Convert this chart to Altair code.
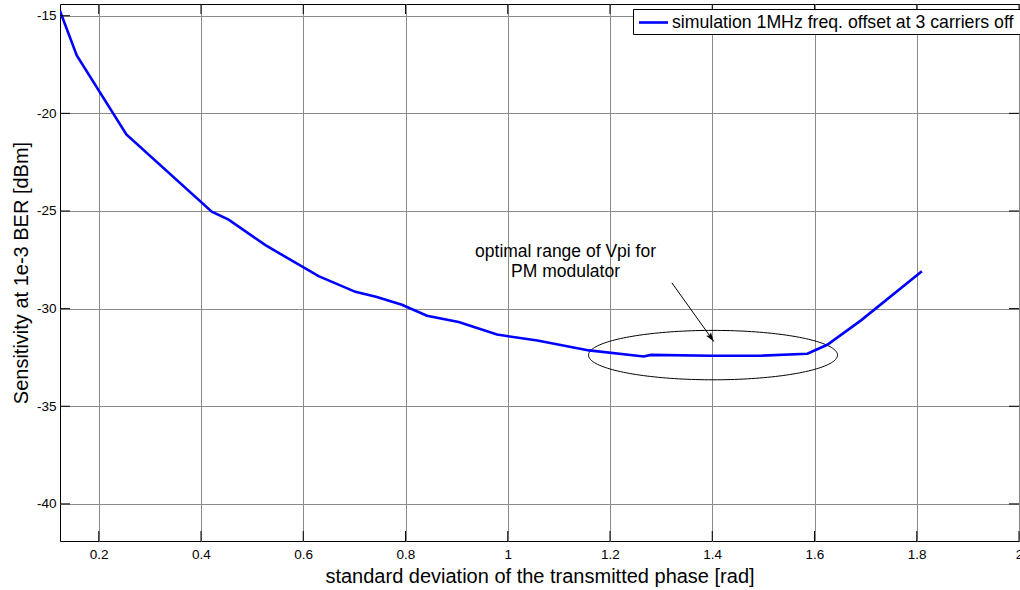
import math
import altair as alt
import numpy as np
import pandas as pd

# ---- data ----
x_vals = [0.124, 0.157, 0.254, 0.421, 0.454, 0.526, 0.630, 0.702, 0.744, 0.793,
          0.842, 0.904, 0.979, 1.058, 1.159, 1.266, 1.280, 1.398, 1.496, 1.586,
          1.625, 1.691, 1.810]
y_vals = [-14.75, -17.03, -21.08, -25.04, -25.44, -26.75, -28.34, -29.14, -29.40, -29.80,
          -30.36, -30.68, -31.33, -31.63, -32.14, -32.45, -32.37, -32.41, -32.41, -32.31,
          -31.85, -30.60, -28.09]
x_ticks = [0.2, 0.4, 0.6, 0.8, 1.0, 1.2, 1.4, 1.6, 1.8, 2.0]
y_ticks = [-40, -35, -30, -25, -20, -15]
legend_label = "simulation 1MHz freq. offset at 3 carriers off"
annot_lines = ["optimal range of Vpi for", "PM modulator"]
annot_x = [1.113, 1.113]
annot_y = [-27.11, -28.13]
ellipse_center = (1.4015, -32.38)
ellipse_radii = (0.2435, 1.265)
arrow_from = (1.321, -28.68)
arrow_to = (1.403, -31.68)

x_domain = [0.1242, 2.0]
y_domain = [-41.9, -14.4]

# ---- layout / style ----
W, H = 959, 537
FONT = "Liberation Sans"
TICK = 10
xscale = alt.Scale(domain=x_domain, nice=False, zero=False)
yscale = alt.Scale(domain=y_domain, nice=False, zero=False)

XAX = alt.Axis(
    values=x_ticks, format="~g", grid=True, gridColor="#8a8a8a", gridWidth=1,
    ticks=False, tickSize=0, domain=False, labelFont=FONT, labelFontSize=13.5,
    labelColor="black", labelPadding=6, labelFlush=False, labelOverlap=False,
    title="standard deviation of the transmitted phase [rad]", titleFont=FONT,
    titleFontSize=20, titleFontWeight="normal", titleColor="black", titlePadding=6,
)
YAX = alt.Axis(
    values=y_ticks, grid=True, gridColor="#8a8a8a", gridWidth=1,
    labelExpr="'' + datum.value",
    ticks=False, tickSize=0, domain=False, labelFont=FONT, labelFontSize=13.5,
    labelColor="black", labelPadding=4, labelOverlap=False,
    title="Sensitivity at 1e-3 BER [dBm]", titleFont=FONT,
    titleFontSize=20, titleFontWeight="normal", titleColor="black", titlePadding=5,
)


def X(f="x"):
    return alt.X(f"{f}:Q", scale=xscale, axis=XAX)


def Y(f="y"):
    return alt.Y(f"{f}:Q", scale=yscale, axis=YAX)


line_df = pd.DataFrame({"x": x_vals, "y": y_vals})
line = alt.Chart(line_df).mark_line(color="#0000ff", strokeWidth=2.6, clip=True).encode(
    x=X(), y=Y(),
)

# ellipse annotation (geometric shape)
t = np.linspace(0, 2 * np.pi, 181)
ell_df = pd.DataFrame({
    "x": ellipse_center[0] + ellipse_radii[0] * np.cos(t),
    "y": ellipse_center[1] + ellipse_radii[1] * np.sin(t),
    "o": np.arange(len(t)),
})
ellipse = alt.Chart(ell_df).mark_line(color="black", strokeWidth=1).encode(
    x=X(), y=Y(), order="o:Q",
)

# arrow
arr_df = pd.DataFrame({"x": [arrow_from[0]], "y": [arrow_from[1]],
                       "x2": [arrow_to[0]], "y2": [arrow_to[1]]})
arrow_line = alt.Chart(arr_df).mark_rule(color="black", strokeWidth=1).encode(
    x=X(), y=Y(), x2="x2:Q", y2="y2:Q",
)
px_x = W / (x_domain[1] - x_domain[0])
px_y = H / (y_domain[1] - y_domain[0])
dx = (arrow_to[0] - arrow_from[0]) * px_x
dy = -(arrow_to[1] - arrow_from[1]) * px_y
ang = -math.degrees(math.atan2(dx, dy)) % 360
head_df = pd.DataFrame({"x": [arrow_to[0]], "y": [arrow_to[1]]})
arrow_head = alt.Chart(head_df).mark_point(
    shape="M 0 0 L -0.32 -1 L 0 -0.8 L 0.32 -1 Z", filled=True, color="black",
    opacity=1, size=330, angle=ang,
).encode(x=X(), y=Y())

annot_df = pd.DataFrame({"x": annot_x, "y": annot_y, "t": annot_lines})
annot = alt.Chart(annot_df).mark_text(
    font=FONT, fontSize=17.5, color="black", align="center", baseline="middle"
).encode(x=X(), y=Y(), text="t:N")

# legend box drawn inside plot
one = pd.DataFrame({"a": [0]})
leg_box = alt.Chart(one).mark_rect(fill="white", stroke="black", strokeWidth=1).encode(
    x=alt.value(573.5), x2=alt.value(990), y=alt.value(5.5), y2=alt.value(30.5),
)
leg_line = alt.Chart(one).mark_rule(color="#0000ff", strokeWidth=2.6).encode(
    x=alt.value(579), x2=alt.value(608), y=alt.value(18.5),
)
leg_text = alt.Chart(pd.DataFrame({"t": [legend_label]})).mark_text(
    font=FONT, fontSize=17.7, color="black", align="left", baseline="middle"
).encode(x=alt.value(612), y=alt.value(18.5), text="t:N")

# inward tick marks on all four sides
xt = pd.DataFrame({"x": x_ticks})
yt = pd.DataFrame({"y": y_ticks})
tick_bottom = alt.Chart(xt).mark_rule(color="black", strokeWidth=1).encode(
    x=X(), y=alt.value(H), y2=alt.value(H - TICK))
tick_top = alt.Chart(xt).mark_rule(color="black", strokeWidth=1).encode(
    x=X(), y=alt.value(0), y2=alt.value(TICK))
tick_left = alt.Chart(yt).mark_rule(color="black", strokeWidth=1).encode(
    y=Y(), x=alt.value(0), x2=alt.value(TICK))
tick_right = alt.Chart(yt).mark_rule(color="black", strokeWidth=1).encode(
    y=Y(), x=alt.value(W), x2=alt.value(W - TICK))

chart = alt.layer(
    ellipse, line, arrow_line, arrow_head, annot,
    tick_bottom, tick_top, tick_left, tick_right,
    leg_box, leg_line, leg_text,
).properties(
    width=W, height=H,
    autosize=alt.AutoSizeParams(type="none"),
    padding={"left": 60, "top": 4, "right": 1, "bottom": 49},
    background="white",
).configure_view(stroke="black", strokeWidth=1)

chart.save("out.html", embed_options={"renderer": "svg", "actions": False})
